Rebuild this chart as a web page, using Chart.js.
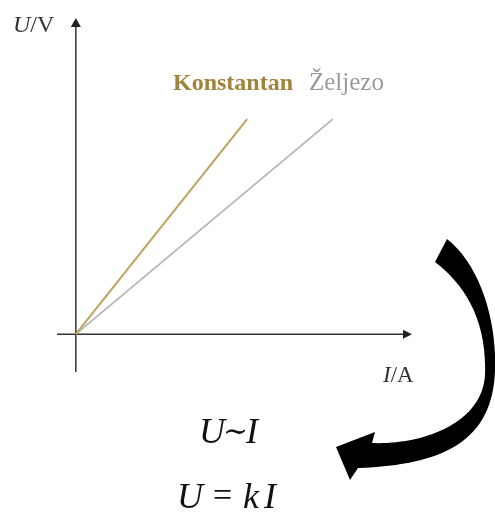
<!DOCTYPE html>
<html>
<head>
<meta charset="utf-8">
<script src="https://cdn.jsdelivr.net/npm/chart.js@4"></script>
<style>
html,body{margin:0;padding:0;background:#fff;}
#wrap{width:495px;height:512px;position:relative;}
</style>
</head>
<body>
<div id="wrap"><canvas id="c" width="495" height="512"></canvas></div>
<script>
// Data (schematic U–I characteristics)
const seriesNames = ["Konstantan", "Željezo"];
const konstantanI = [0, 4];
const konstantanU = [0, 5];
const zeljezoI = [0, 6];
const zeljezoU = [0, 5];
const xAxisLabel = ["I", "/A"];
const yAxisLabel = ["U", "/V"];
const formulas = ["U∼I", "U = kI"];

const toPts = (xs, ys) => xs.map((x, i) => ({x: x, y: ys[i]}));

const SERIF = '"Liberation Serif", "DejaVu Serif", serif';

const decorPlugin = {
  id: 'decor',
  beforeDatasetsDraw(chart) {
    const ctx = chart.ctx;
    const xs = chart.scales.x, ys = chart.scales.y;
    const ox = xs.getPixelForValue(0), oy = ys.getPixelForValue(0);
    const ca = chart.chartArea;
    ctx.save();
    ctx.strokeStyle = '#333';
    ctx.fillStyle = '#222';
    ctx.lineWidth = 1.5;
    // x axis
    ctx.beginPath(); ctx.moveTo(ca.left, oy); ctx.lineTo(ca.right - 6, oy); ctx.stroke();
    ctx.beginPath(); ctx.moveTo(ca.right, oy); ctx.lineTo(ca.right - 9, oy - 4.5); ctx.lineTo(ca.right - 9, oy + 4.5); ctx.closePath(); ctx.fill();
    // y axis
    ctx.beginPath(); ctx.moveTo(ox, ca.bottom); ctx.lineTo(ox, ca.top + 6); ctx.stroke();
    ctx.beginPath(); ctx.moveTo(ox, ca.top); ctx.lineTo(ox - 5, ca.top + 9); ctx.lineTo(ox + 5, ca.top + 9); ctx.closePath(); ctx.fill();
    ctx.restore();
  },
  afterDraw(chart) {
    const ctx = chart.ctx;
    ctx.save();
    ctx.textBaseline = 'alphabetic';
    ctx.textAlign = 'left';
    // axis labels
    ctx.fillStyle = '#333';
    ctx.font = 'italic 24px ' + SERIF;
    ctx.fillText(yAxisLabel[0], 13, 32);
    let w = ctx.measureText(yAxisLabel[0]).width;
    ctx.font = '24px ' + SERIF;
    ctx.fillText(yAxisLabel[1], 13 + w, 32);

    ctx.font = 'italic 23px ' + SERIF;
    ctx.fillText(xAxisLabel[0], 383, 382);
    w = ctx.measureText(xAxisLabel[0]).width;
    ctx.font = '23px ' + SERIF;
    ctx.fillText(xAxisLabel[1], 383 + w, 382);

    // series labels
    ctx.font = 'bold 24px ' + SERIF;
    ctx.fillStyle = '#a3833c';
    ctx.fillText(seriesNames[0], 173, 90);
    ctx.font = '25px ' + SERIF;
    ctx.fillStyle = '#9a9a9a';
    ctx.fillText(seriesNames[1], 309, 90);

    // curved arrow
    ctx.fillStyle = '#000';
    ctx.beginPath();
    ctx.moveTo(435, 262);
    ctx.lineTo(447, 239);
    ctx.bezierCurveTo(480, 265, 497, 320, 495, 370);
    ctx.bezierCurveTo(493, 440, 445, 465, 358, 468);
    ctx.lineTo(350, 480);
    ctx.lineTo(336, 447);
    ctx.lineTo(375, 432);
    ctx.lineTo(372, 443);
    ctx.bezierCurveTo(420, 445, 482, 425, 485, 375);
    ctx.bezierCurveTo(487, 320, 465, 285, 435, 262);
    ctx.closePath();
    ctx.fill();

    // formulas
    ctx.fillStyle = '#111';
    ctx.font = 'italic 36px ' + SERIF;
    ctx.fillText('U', 199, 443);
    ctx.font = '30px "DejaVu Serif", serif';
    ctx.fillText('∼', 223, 441);
    ctx.font = 'italic 36px ' + SERIF;
    ctx.fillText('I', 246, 443);

    ctx.font = 'italic 36px ' + SERIF;
    ctx.fillText('U', 177, 508);
    ctx.font = '34px ' + SERIF;
    ctx.fillText('=', 213, 506);
    ctx.font = 'italic 36px ' + SERIF;
    ctx.fillText('k', 243, 508);
    ctx.fillText('I', 264, 508);
    ctx.restore();
  }
};

new Chart(document.getElementById('c'), {
  type: 'scatter',
  data: {
    datasets: [
      { label: seriesNames[0], data: toPts(konstantanI, konstantanU), showLine: true,
        borderColor: '#bda264', borderWidth: 2, pointRadius: 0, order: 1 },
      { label: seriesNames[1], data: toPts(zeljezoI, zeljezoU), showLine: true,
        borderColor: '#b4b4b4', borderWidth: 1.7, pointRadius: 0, order: 2 }
    ]
  },
  options: {
    responsive: false,
    animation: false,
    devicePixelRatio: 1,
    layout: { padding: { left: 57, right: 83, top: 18, bottom: 140 } },
    plugins: { legend: { display: false }, tooltip: { enabled: false } },
    scales: {
      x: { type: 'linear', min: -0.44, max: 7.85, display: false },
      y: { type: 'linear', min: -0.88, max: 7.35, display: false }
    }
  },
  plugins: [decorPlugin]
});
</script>
</body>
</html>
